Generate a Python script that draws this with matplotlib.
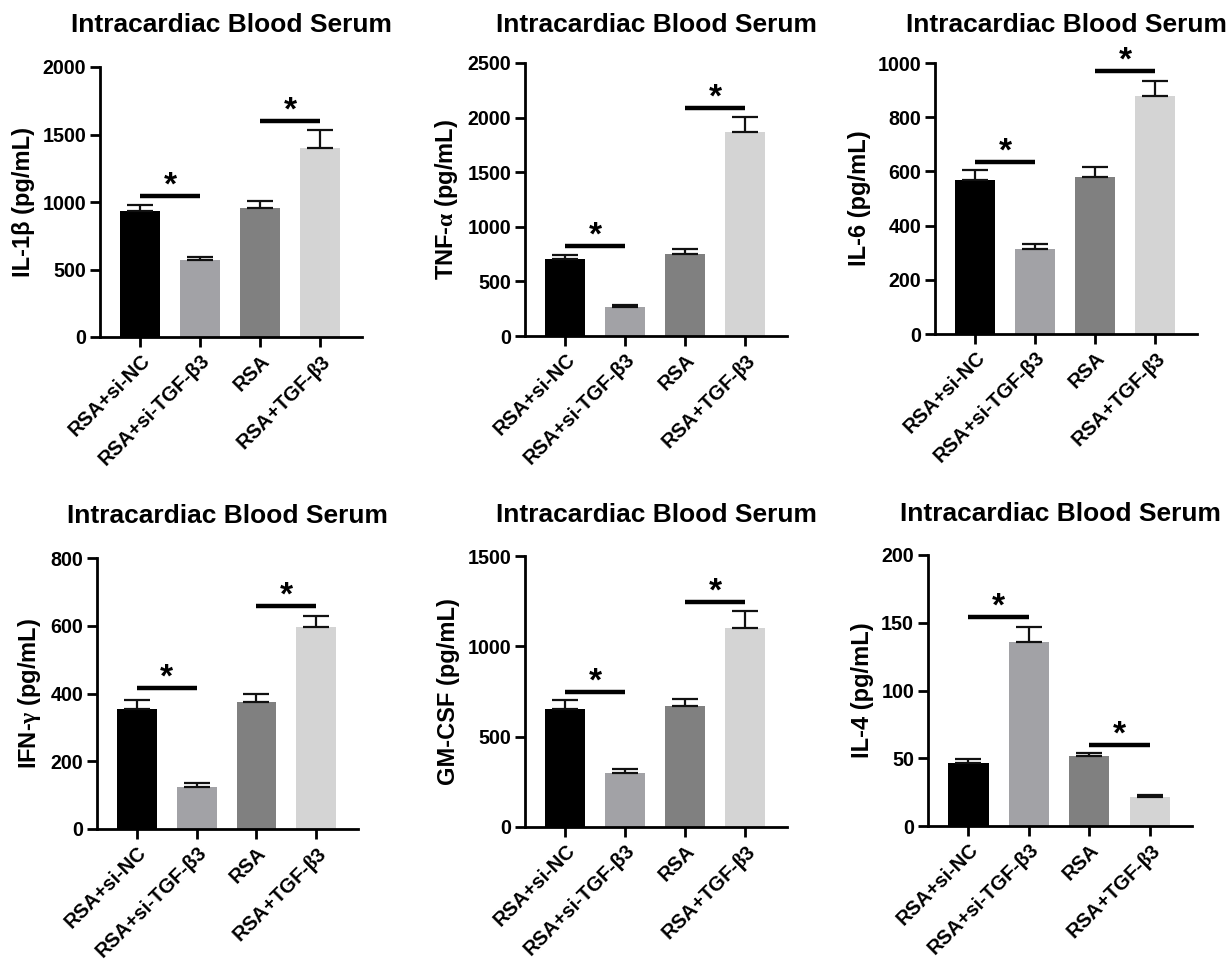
import matplotlib
matplotlib.use("Agg")
import matplotlib.pyplot as plt
import numpy as np

plt.rcParams['font.family'] = ['Liberation Sans', 'DejaVu Sans']
plt.rcParams['font.weight'] = 'bold'
plt.rcParams['mathtext.fontset'] = 'custom'
plt.rcParams['mathtext.rm'] = 'Liberation Serif'
plt.rcParams['mathtext.it'] = 'Liberation Serif:italic'
plt.rcParams['mathtext.bf'] = 'Liberation Serif:bold'

# ---------------- data ----------------
groups = ["RSA+si-NC", "RSA+si-TGF-β3", "RSA", r"RSA+TGF-$\mathrm{\beta}$3"]
bar_colors = ["#000000", "#A2A2A6", "#808080", "#D4D4D4"]
title = "Intracardiac Blood Serum"

il1b = [933, 573, 958, 1398]
il1b_err = [45, 20, 47, 135]
il1b_sig = [1042, 1600]

tnfa = [705, 263, 755, 1865]
tnfa_err = [40, 18, 40, 138]
tnfa_sig = [825, 2084]

il6 = [568, 315, 578, 877]
il6_err = [38, 18, 37, 58]
il6_sig = [636, 972]

ifng = [354, 125, 374, 596]
ifng_err = [27, 12, 24, 34]
ifng_sig = [417, 658]

gmcsf = [653, 297, 668, 1100]
gmcsf_err = [48, 26, 42, 96]
gmcsf_sig = [747, 1244]

il4 = [46.7, 135.5, 51.7, 21.4]
il4_err = [3.0, 11.6, 2.2, 1.5]
il4_sig = [154.5, 59.5]

ylabels = ["IL-1β (pg/mL)", r"TNF-$\mathrm{\alpha}$ (pg/mL)", "IL-6 (pg/mL)",
           r"IFN-$\mathrm{\gamma}$ (pg/mL)", "GM-CSF (pg/mL)", "IL-4 (pg/mL)"]
ymaxes = [2000, 2500, 1000, 800, 1500, 200]
ysteps = [500, 500, 200, 200, 500, 50]
sig_pairs = [(0, 1), (2, 3)]

panels = [
    (il1b, il1b_err, il1b_sig),
    (tnfa, tnfa_err, tnfa_sig),
    (il6, il6_err, il6_sig),
    (ifng, ifng_err, ifng_sig),
    (gmcsf, gmcsf_err, gmcsf_sig),
    (il4, il4_err, il4_sig),
]

# ---------------- layout (pixels) ----------------
W, H = 1231, 965
# left, right, top, bottom in pixels
rects = [
    (100, 362, 67, 337),
    (525, 787, 63, 336),
    (935, 1197, 63, 334),
    (97, 358, 558, 829),
    (525, 787, 556, 827),
    (928, 1192, 555, 826),
]
title_baselines = [32, 32, 32, 523, 522, 521]

fig = plt.figure(figsize=(W / 100, H / 100), dpi=100)

for i, ((vals, errs, sigs), (l, r, t, b)) in enumerate(zip(panels, rects)):
    ax = fig.add_axes([l / W, 1 - b / H, (r - l) / W, (b - t) / H])
    x = np.arange(len(groups))
    ax.bar(x, vals, width=0.667, color=bar_colors, zorder=2)
    ax.errorbar(x, vals, yerr=[np.zeros(len(errs)), errs], fmt='none',
                ecolor='#111111', elinewidth=1.6, capsize=9.5, capthick=1.6,
                zorder=3)
    for (a, c), s in zip(sig_pairs, sigs):
        ax.plot([x[a], x[c]], [s, s], color='black', lw=3.2,
                solid_capstyle='butt', zorder=4, clip_on=False)
        ax.annotate('*', xy=((x[a] + x[c]) / 2, s), xytext=(0, 1),
                    textcoords='offset points', ha='center', va='baseline',
                    fontsize=24, fontweight='bold')
    ax.set_xlim(-0.67, 3.7)
    ax.set_ylim(0, ymaxes[i])
    ax.set_yticks(np.arange(0, ymaxes[i] + 1, ysteps[i]))
    ax.set_xticks(x)
    ax.set_xticklabels(groups, rotation=45, ha='right', rotation_mode='anchor',
                       fontsize=14.5, fontweight='bold')
    for lab in ax.get_yticklabels():
        lab.set_fontsize(14.2)
        lab.set_fontweight('bold')
    ax.set_ylabel(ylabels[i], fontsize=17, fontweight='bold', labelpad=5)
    for sp in ['top', 'right']:
        ax.spines[sp].set_visible(False)
    for sp in ['left', 'bottom']:
        ax.spines[sp].set_linewidth(2.0)
    ax.tick_params(axis='both', width=2.0, length=7.5, pad=2.5, colors='black')
    pad = (t - title_baselines[i]) * 72 / 100
    ax.set_title(title, fontsize=19, fontweight='bold', pad=pad)

fig.savefig("out.png", dpi=100, facecolor='white')
